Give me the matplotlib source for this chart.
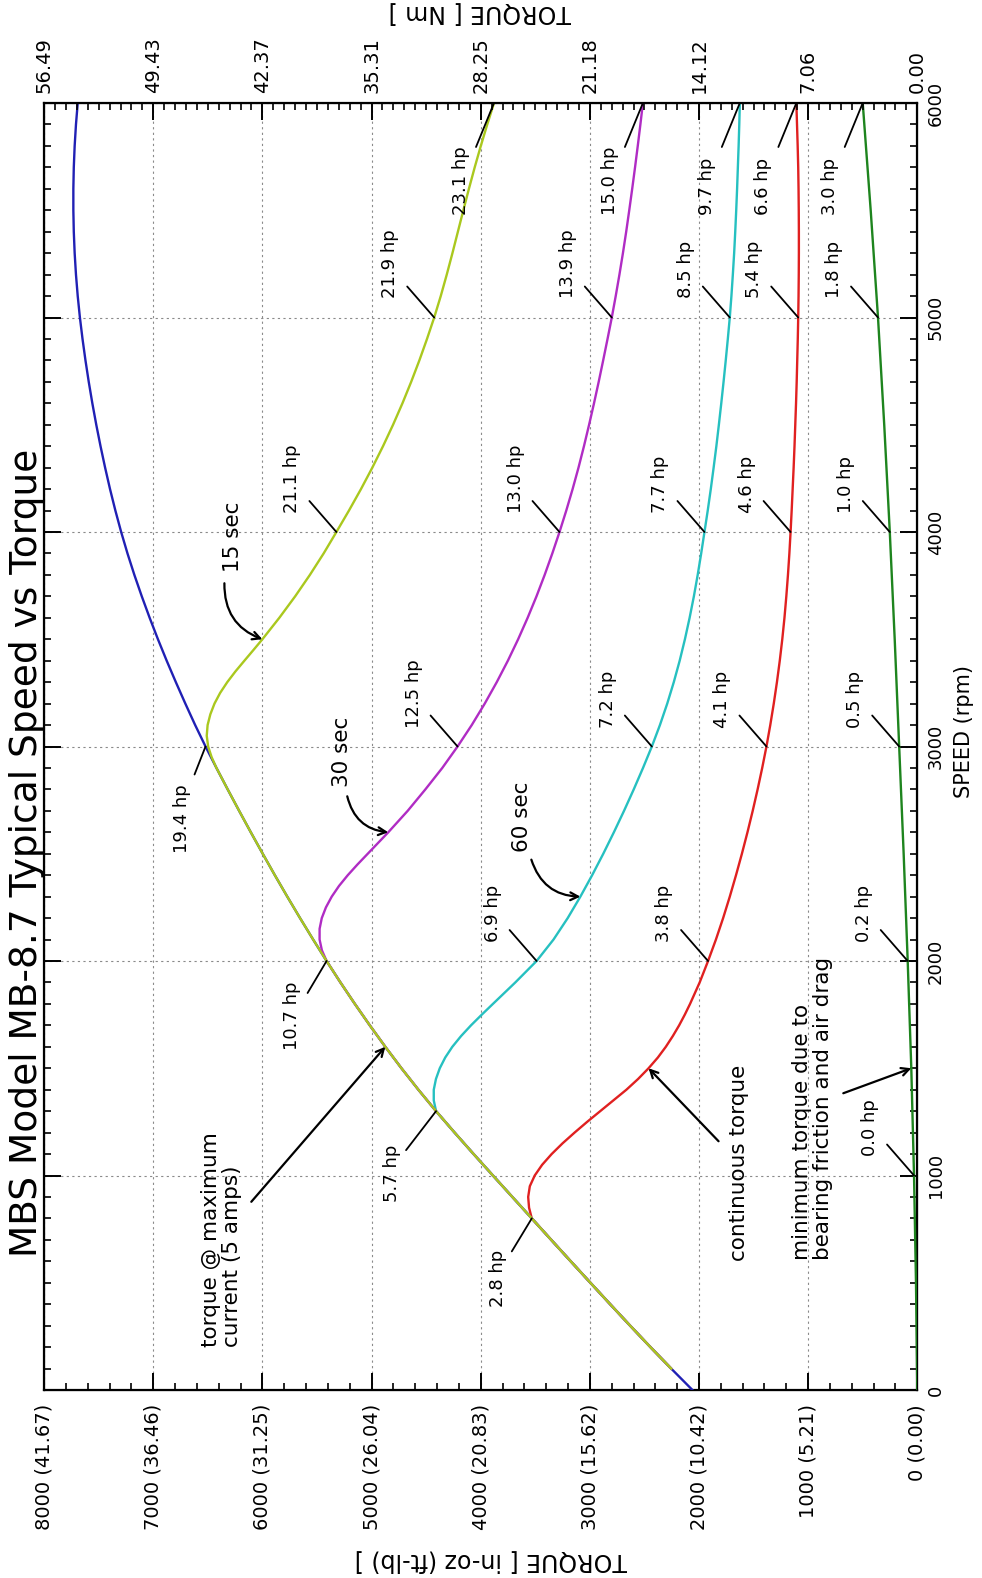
import numpy as np
import matplotlib
matplotlib.use("Agg")
import matplotlib.pyplot as plt
from matplotlib.ticker import MultipleLocator, FuncFormatter

plt.rcParams['font.family'] = ['DejaVu Sans']

# ---------------------------------------------------------------- data
# horsepower constant: hp = torque[in-oz] * speed[rpm] / HP_K
HP_K = 1008400.0

# torque at maximum current (5 amps)
max_speed = [0, 100, 200, 300, 400, 500, 600, 700, 800, 900, 1000,
             1100, 1200, 1300, 1400, 1500, 1600, 1700, 1800, 1900, 2000,
             2100, 2200, 2300, 2400, 2500, 2600, 2700, 2800, 2900, 3000,
             3100, 3200, 3300, 3400, 3500, 3600, 3700, 3800, 3900, 4000,
             4100, 4200, 4300, 4400, 4500, 4600, 4700, 4800, 4900, 5000,
             5100, 5200, 5300, 5400, 5500, 5600, 5700, 5800, 5900, 6000]
max_torque = [2060, 2255, 2445, 2631, 2814, 2995, 3175, 3354, 3532, 3710, 3888,
              4065, 4239, 4409, 4571, 4726, 4874, 5016, 5153, 5285, 5412,
              5535, 5655, 5772, 5886, 5997, 6106, 6213, 6318, 6421, 6521,
              6616, 6706, 6793, 6877, 6957, 7033, 7105, 7173, 7236, 7294,
              7347, 7396, 7441, 7483, 7522, 7558, 7591, 7621, 7648, 7672,
              7692, 7708, 7720, 7728, 7732, 7732, 7728, 7720, 7708, 7692]

# 15 sec rating (runs along the max-current curve up to t15_join rpm)
t15_join = 2900
t15_speed = [2950, 3000, 3050, 3100, 3150, 3200, 3250, 3300, 3350, 3400, 3450,
             3500, 3600, 3700, 3800, 3900, 4000, 4100, 4200, 4300, 4400, 4500,
             4600, 4700, 4800, 4900, 5000, 5100, 5200, 5300, 5400, 5500, 5600,
             5700, 5800, 5900, 6000]
t15_torque = [6465, 6497, 6510, 6502, 6477, 6439, 6387, 6322, 6247, 6165, 6082,
              6000, 5845, 5700, 5565, 5439, 5322, 5207, 5097, 4993, 4895, 4803,
              4717, 4637, 4562, 4492, 4426, 4366, 4311, 4259, 4209, 4159, 4108,
              4055, 3999, 3940, 3878]

# 30 sec rating
t30_join = 2000
t30_speed = [2050, 2100, 2150, 2200, 2250, 2300, 2350, 2400, 2450, 2500, 2600,
             2700, 2800, 2900, 3000, 3100, 3200, 3300, 3400, 3500, 3600, 3700,
             3800, 3900, 4000, 4100, 4200, 4300, 4400, 4500, 4600, 4700, 4800,
             4900, 5000, 5100, 5200, 5300, 5400, 5500, 5600, 5700, 5800, 5900,
             6000]
t30_torque = [5455, 5476, 5476, 5456, 5418, 5365, 5298, 5218, 5129, 5035, 4847,
              4669, 4507, 4352, 4212, 4082, 3963, 3853, 3751, 3657, 3570, 3489,
              3414, 3344, 3278, 3216, 3158, 3104, 3054, 3007, 2962, 2919, 2878,
              2838, 2799, 2763, 2729, 2697, 2667, 2639, 2612, 2586, 2561, 2537,
              2514]

# 60 sec rating
t60_join = 1300
t60_speed = [1350, 1400, 1450, 1500, 1550, 1600, 1650, 1700, 1750, 1800, 1900,
             2000, 2100, 2200, 2300, 2400, 2500, 2600, 2700, 2800, 2900, 3000,
             3100, 3200, 3300, 3400, 3500, 3600, 3700, 3800, 3900, 4000, 4100,
             4200, 4300, 4400, 4500, 4600, 4700, 4800, 4900, 5000, 5100, 5200,
             5300, 5400, 5500, 5600, 5700, 5800, 5900, 6000]
t60_torque = [4430, 4430, 4410, 4375, 4325, 4260, 4180, 4089, 3990, 3888, 3683,
              3488, 3333, 3203, 3087, 2979, 2877, 2780, 2687, 2598, 2513, 2432,
              2358, 2291, 2231, 2177, 2129, 2086, 2047, 2012, 1980, 1950, 1920,
              1892, 1866, 1841, 1818, 1796, 1775, 1755, 1736, 1718, 1703, 1690,
              1678, 1668, 1659, 1651, 1644, 1637, 1631, 1626]

# continuous torque
cont_join = 800
cont_speed = [850, 900, 950, 1000, 1050, 1100, 1150, 1200, 1250, 1300, 1350,
              1400, 1450, 1500, 1550, 1600, 1650, 1700, 1750, 1800, 1900, 2000,
              2100, 2200, 2300, 2400, 2500, 2600, 2700, 2800, 2900, 3000, 3100,
              3200, 3300, 3400, 3500, 3600, 3700, 3800, 3900, 4000, 4100, 4200,
              4300, 4400, 4500, 4600, 4700, 4800, 4900, 5000, 5100, 5200, 5300,
              5400, 5500, 5600, 5700, 5800, 5900, 6000]
cont_torque = [3557, 3565, 3550, 3505, 3437, 3350, 3250, 3140, 3025, 2905, 2785,
               2665, 2558, 2462, 2377, 2304, 2240, 2182, 2130, 2082, 1994, 1917,
               1845, 1779, 1718, 1661, 1607, 1556, 1508, 1463, 1421, 1382, 1347,
               1315, 1286, 1260, 1237, 1217, 1200, 1185, 1172, 1161, 1151, 1142,
               1133, 1125, 1118, 1111, 1105, 1100, 1095, 1091, 1088, 1086, 1085,
               1085, 1086, 1088, 1091, 1096, 1102, 1108]

# minimum torque due to bearing friction and air drag
drag_speed = [0, 500, 1000, 1500, 2000, 2500, 3000, 3500, 4000, 4500, 5000,
              5500, 6000]
drag_torque = [0, 12, 30, 55, 88, 125, 166, 207, 252, 303, 360, 427, 500]

# speeds at which the power is written next to each curve
max_marks = [800, 1300, 2000, 3000]
t15_marks = [4000, 5000, 6000]
t30_marks = [3000, 4000, 5000, 6000]
t60_marks = [2000, 3000, 4000, 5000, 6000]
cont_marks = [2000, 3000, 4000, 5000, 6000]
drag_marks = [1000, 2000, 3000, 4000, 5000, 6000]

IN_OZ_PER_FT_LB = 192.0
NM_PER_IN_OZ = 0.00706155

# ---------------------------------------------------------------- figure
W, H = 982, 1578
fig = plt.figure(figsize=(W / 100, H / 100), dpi=100)


def fpos(x, y):
    return x / W, 1 - y / H


AX_L, AX_R, AX_T, AX_B = 44.1, 917.3, 103.0, 1390.0
ax = fig.add_axes([AX_L / W, 1 - AX_B / H, (AX_R - AX_L) / W, (AX_B - AX_T) / H])

BLUE = '#2020b4'
YELLOW = '#aac81e'
MAGENTA = '#b02cc4'
CYAN = '#26c0c0'
RED = '#e02020'
GREEN = '#1e841e'
LW = 1.7


def rated_curve(join, sp, tq):
    ms = np.asarray(max_speed)
    mt = np.asarray(max_torque)
    keep = (ms >= 100) & (ms <= join)
    return (np.concatenate([ms[keep], sp]), np.concatenate([mt[keep], tq]))


curves = {
    'max': (np.asarray(max_speed), np.asarray(max_torque)),
    't15': rated_curve(t15_join, t15_speed, t15_torque),
    't30': rated_curve(t30_join, t30_speed, t30_torque),
    't60': rated_curve(t60_join, t60_speed, t60_torque),
    'cont': rated_curve(cont_join, cont_speed, cont_torque),
    'drag': (np.asarray(drag_speed), np.asarray(drag_torque)),
}

ax.plot(curves['max'][1], curves['max'][0], color=BLUE, lw=LW, zorder=3)
ax.plot(curves['drag'][1], curves['drag'][0], color=GREEN, lw=LW, zorder=3)
ax.plot(curves['cont'][1], curves['cont'][0], color=RED, lw=LW, zorder=4)
ax.plot(curves['t60'][1], curves['t60'][0], color=CYAN, lw=LW, zorder=5)
ax.plot(curves['t30'][1], curves['t30'][0], color=MAGENTA, lw=LW, zorder=6)
ax.plot(curves['t15'][1], curves['t15'][0], color=YELLOW, lw=LW, zorder=7)

# ---------------------------------------------------------------- axes
ax.set_xlim(8000, 0)
ax.set_ylim(0, 6000)
ax.xaxis.set_major_locator(MultipleLocator(1000))
ax.xaxis.set_minor_locator(MultipleLocator(200))
ax.yaxis.set_major_locator(MultipleLocator(1000))
ax.yaxis.set_minor_locator(MultipleLocator(100))
ax.xaxis.set_major_formatter(FuncFormatter(
    lambda v, p: f"{int(round(v))} ({abs(v) / IN_OZ_PER_FT_LB:.2f})"))
ax.yaxis.set_major_formatter(FuncFormatter(lambda v, p: f"{int(round(v))}"))

TICK_SIZE = 14
ax.tick_params(axis='x', which='both', direction='in', bottom=True, top=False,
               labelbottom=True, labeltop=False)
ax.tick_params(axis='x', which='major', labelrotation=90, pad=10,
               labelsize=TICK_SIZE)
ax.tick_params(axis='y', which='both', direction='in', left=True, right=True,
               labelleft=False, labelright=True)
ax.tick_params(axis='y', which='major', labelrotation=90, pad=7,
               labelsize=13)
ax.tick_params(which='major', length=12, width=1.4)
ax.tick_params(which='minor', length=5, width=1.2)
for lab in ax.get_yticklabels():
    lab.set_verticalalignment('center')
for sp in ax.spines.values():
    sp.set_linewidth(1.6)

ax.grid(True, which='major', linestyle=(0, (2, 3)), color='#8a8a8a', lw=0.8)

ax2 = ax.twiny()
ax2.set_xlim(8000, 0)
ax2.xaxis.set_major_locator(MultipleLocator(1000))
ax2.xaxis.set_minor_locator(MultipleLocator(100))
ax2.xaxis.set_major_formatter(FuncFormatter(
    lambda v, p: f"{abs(v) * NM_PER_IN_OZ:.2f}"))
ax2.tick_params(axis='x', which='both', direction='in', top=True, bottom=False,
                labeltop=True, labelbottom=False)
ax2.tick_params(axis='x', which='major', labelrotation=90, pad=7,
                labelsize=TICK_SIZE, length=12, width=1.4)
ax2.tick_params(axis='x', which='minor', length=5, width=1.2)

# ---------------------------------------------------------------- power labels
STD = ((-27, 31), (-35, 19), 'bottom')
TOP = ((-18, -44), (-24, -112), 'bottom')
MAX_STYLE = {
    800: ((-20, -33), (-25, -31), 'top'),
    1300: ((-30, -39), (-35, -33), 'top'),
    2000: ((-19, -32), (-26, -21), 'top'),
    3000: ((-11, -28), (-15, -38), 'top'),
}


def curve_point(key, s):
    sp, tq = curves[key]
    return float(tq[list(sp).index(s)]), s


def hp_label(key, s, style):
    t, _ = curve_point(key, s)
    hp = t * s / HP_K
    (lx, ly), (tx, ty), va = style
    ax.annotate('', xy=(t, s), xytext=(lx, ly), textcoords='offset pixels',
                arrowprops=dict(arrowstyle='-', lw=1.3, color='black',
                                shrinkA=0, shrinkB=0), zorder=9)
    ax.annotate(f"{hp:.1f} hp", xy=(t, s), xytext=(tx, ty),
                textcoords='offset pixels', rotation=90, ha='right', va=va,
                fontsize=13, zorder=9)


for s in max_marks:
    hp_label('max', s, MAX_STYLE[s])
for key, marks in (('t15', t15_marks), ('t30', t30_marks), ('t60', t60_marks),
                   ('cont', cont_marks), ('drag', drag_marks)):
    for s in marks:
        hp_label(key, s, TOP if s == 6000 else STD)

# ---------------------------------------------------------------- callouts
NOTE_SIZE = 15.5


def callout(text, key, s, arrow_from, text_at, ha='center', va='center',
            rad=0.0, size=NOTE_SIZE):
    xy = curve_point(key, s)
    ax.annotate('', xy=xy, xytext=arrow_from, textcoords='offset pixels',
                arrowprops=dict(arrowstyle='->,head_length=0.55,head_width=0.28',
                                lw=1.6, color='black', shrinkA=0, shrinkB=0,
                                connectionstyle=f'arc3,rad={rad}'), zorder=9)
    ax.annotate(text, xy=xy, xytext=text_at, textcoords='offset pixels',
                rotation=90, ha=ha, va=va, fontsize=size,
                multialignment='left', linespacing=1.05, zorder=9)


callout('15 sec', 't15', 3500, (-38, 56), (-29, 102), rad=0.35)
callout('30 sec', 't30', 2600, (-41, 36), (-46, 80), rad=0.35)
callout('60 sec', 't60', 2300, (-49, 37), (-58, 80), rad=0.35)
callout('torque @ maximum\ncurrent (5 amps)', 'max', 1600, (-134, -155),
        (-164, -300), va='bottom')
callout('continuous torque', 'cont', 1500, (70, -73), (90, -193), va='bottom')
callout('minimum torque due to\nbearing friction and air drag', 'drag', 1500,
        (-68, -25), (-99, -192), va='bottom')

# ---------------------------------------------------------------- titles
fig.text(*fpos(27, 853), 'MBS Model MB-8.7 Typical Speed vs Torque',
         rotation=90, ha='center', va='center', fontsize=27)
fig.text(*fpos(964, 732), 'SPEED (rpm)', rotation=90, ha='center',
         va='center', fontsize=15)
fig.text(*fpos(491, 1561), 'TORQUE [ in-oz (ft-lb) ]', rotation=180,
         ha='center', va='center', fontsize=17)
fig.text(*fpos(480, 13), 'TORQUE [ Nm ]', rotation=180, ha='center',
         va='center', fontsize=17)

fig.savefig('out.png', dpi=100, facecolor='white')
